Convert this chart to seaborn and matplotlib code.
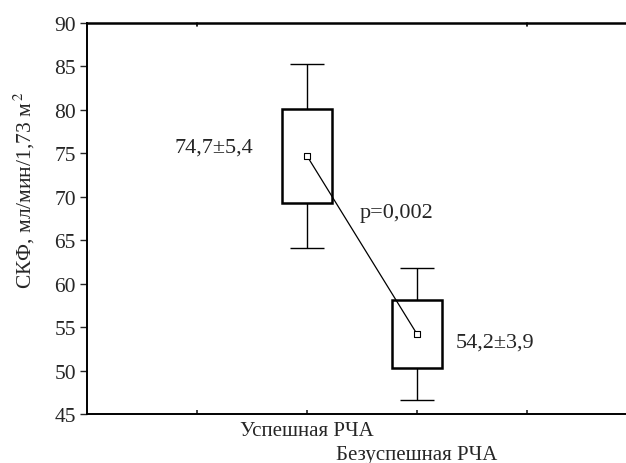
import matplotlib
matplotlib.use("Agg")
import matplotlib.pyplot as plt
import seaborn as sns
import pandas as pd
import numpy as np

# Group means and standard errors of GFR
groups = ["Успешная РЧА", "Безуспешная РЧА"]
means = [74.7, 54.2]
sems = [5.4, 3.9]
mean_labels = ["74,7±5,4", "54,2±3,9"]
p_text = "p=0,002"
y_ticks = [45, 50, 55, 60, 65, 70, 75, 80, 85, 90]

sns.set_theme(style="white")
plt.rcParams["font.family"] = ["Liberation Serif", "DejaVu Serif"]
plt.rcParams["mathtext.fontset"] = "stix"

df = pd.DataFrame({"group": groups, "mean": means, "se": sems})
df["pos"] = np.arange(len(df))
df["lo"] = df["mean"] - df["se"]
df["ci"] = 1.96 * df["se"]

fig = plt.figure(figsize=(6.26, 4.64), dpi=100)
ax = fig.add_axes([87 / 626, 49 / 464, 550 / 626, 391 / 464])

# whiskers: mean ± 1.96·SE
ax.errorbar(df["pos"], df["mean"], yerr=df["ci"], fmt="none", ecolor="black",
            elinewidth=1.0, capsize=12, capthick=1.0, zorder=1)
# boxes: mean ± SE
ax.bar(df["pos"], 2 * df["se"], bottom=df["lo"], width=0.45, color="white",
       edgecolor="black", linewidth=1.8, zorder=2)
# line joining the means
sns.lineplot(data=df, x="pos", y="mean", color="black", linewidth=0.9,
             ax=ax, zorder=3, legend=False)
sns.scatterplot(data=df, x="pos", y="mean", marker="s", s=22, color="white",
                edgecolor="black", linewidth=0.8, ax=ax, zorder=4, legend=False)

fs = 16
ax.text(-0.845, means[0] + 0.5, mean_labels[0], fontsize=fs, ha="center",
        va="baseline")
ax.text(1.355, means[1] - 1.4, mean_labels[1], fontsize=fs, ha="left",
        va="baseline")
ax.text(0.48, 67.7, p_text, fontsize=fs, ha="left", va="baseline")

ax.set_xlim(-2, 3)
ax.set_ylim(45, 90)
ax.set_yticks(y_ticks)
ax.set_yticklabels([str(v) for v in y_ticks], fontsize=15.5)
ax.set_xticks([-1, 0, 1, 2])
ax.set_xticklabels(["", groups[0], groups[1], ""], fontsize=15)
ax.tick_params(axis="y", direction="out", length=5, width=1, pad=3, left=True)
ax.tick_params(axis="x", direction="in", length=3, width=1.2, pad=5,
               bottom=True, top=False)
# stagger the two group names
ax.xaxis.get_major_ticks()[2].set_pad(22)
# short ticks along the top border
for xv in [-1, 2]:
    ax.plot([xv, xv], [90, 89.6], color="black", linewidth=1.2, clip_on=False)

ax.set_xlabel("")
ax.set_ylabel("СКФ, мл/мин/1,73 м$^{\\,2}$", fontsize=15.5)
ax.yaxis.set_label_coords(-0.091, 0.575)

for side in ["left", "bottom", "top"]:
    ax.spines[side].set_visible(True)
    ax.spines[side].set_color("black")
    ax.spines[side].set_linewidth(1.4)
ax.spines["top"].set_linewidth(1.8)
ax.spines["right"].set_visible(False)

fig.savefig("out.png", dpi=100)
